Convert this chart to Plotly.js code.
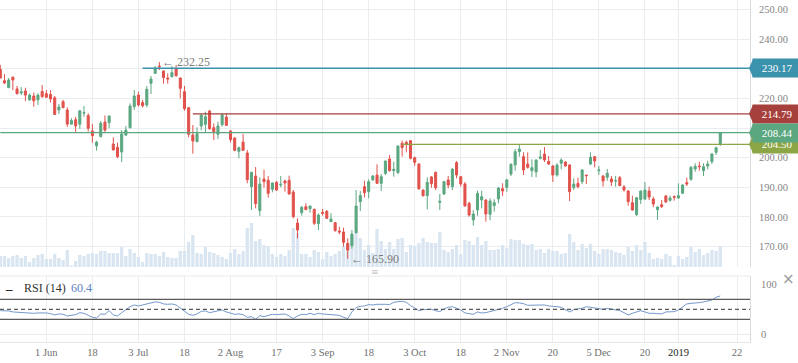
<!DOCTYPE html>
<html><head><meta charset="utf-8">
<script src="https://cdn.plot.ly/plotly-3.0.1.min.js"></script>
<style>html,body{margin:0;padding:0;background:#fff;}#chart{width:798px;height:363px;}</style>
</head><body><div id="chart"></div>
<script>
// ---- data ----
const tickLabels = ['1 Jun','18','3 Jul','18','2 Aug','17','3 Sep','18','3 Oct','18','2 Nov','20','5 Dec','20','2019','22'];
const tickIndex  = [11,22,33,44,55,66,77,88,99,110,121,132,143,154,162,176];
const priceTicks = [170, 180, 190, 200, 220, 240, 250]; // 210 and 230 are hidden behind the level tags

const open = [
229.8,225.98,223.6,227.2,223.2,221.8,222.5,219.5,220.8,219.5,
222.3,221.6,221.3,220.2,216.1,218.9,216.1,211.3,212.8,211.3,
215.0,214.2,209.0,204.0,207.1,212.0,211.8,204.6,203.5,201.9,
207.6,210.1,217.2,221.1,218.6,217.77,225.08,228.45,230.93,229.24,
226.88,227.33,229.92,226.88,222.27,216.86,207.64,205.39,210.68,211.24,
215.74,210.11,207.86,211.13,213.71,209.0,206.63,202.13,205.28,201.56,
190.2,193.8,182.1,192.79,192.34,189.3,191.66,190.76,192.11,192.34,
188.4,177.93,181.42,183.45,182.77,182.55,177.71,181.53,181.87,178.38,
178.05,175.23,174.9,171.07,170.28,174.67,185.13,190.2,188.51,192.45,
194.14,191.32,194.7,199.54,195.6,194.92,204.83,205.16,205.73,199.99,
197.85,189.07,187.16,193.46,195.04,184.91,187.72,192.45,190.2,198.3,
193.57,191.1,184.57,178.95,182.32,185.7,185.7,180.86,183.78,186.04,
189.52,189.97,194.47,197.51,202.01,200.33,197.85,195.6,195.15,199.76,
201.23,198.75,197.17,194.14,198.08,198.52,197.51,189.86,191.32,191.89,
194.14,197.85,200.33,195.6,193.8,193.35,192.79,192.11,193.24,190.09,
188.74,184.8,180.75,185.81,186.04,188.74,186.04,182.44,184.12,187.05,
185.59,186.82,186.37,187.95,191.55,192.67,196.16,197.17,195.6,197.17,
198.64,201.79,204.49];
const high = [
231.3,228.2,226.9,227.2,224.2,223.8,223.6,221.7,222.0,221.7,
224.5,222.8,222.8,220.8,218.1,219.5,217.0,213.3,213.8,216.1,
217.4,215.0,211.4,205.7,212.4,214.2,214.2,206.85,205.05,209.3,
210.7,218.3,222.8,222.3,219.5,224.18,227.55,230.93,232.25,229.4,
228.45,230.93,231.27,227.0,224.18,217.0,211.0,210.23,214.5,215.51,
216.08,211.58,212.14,214.95,214.95,209.33,206.85,203.7,207.97,202.57,
195.2,196.84,193.35,195.94,193.8,191.6,192.11,193.8,192.56,193.9,
189.07,179.5,183.67,184.57,183.8,182.77,181.2,182.66,182.32,181.2,
178.27,176.7,176.36,172.76,175.57,189.07,188.74,192.22,192.67,194.14,
197.74,194.47,199.0,200.89,198.64,204.1,205.73,205.73,205.95,200.33,
198.08,189.3,193.35,193.8,195.26,187.72,192.11,193.8,196.39,198.86,
193.8,191.77,185.13,182.32,188.85,188.85,185.92,186.26,185.92,189.97,
191.32,192.9,198.08,202.91,204.5,201.79,201.79,199.42,199.42,202.57,
203.59,200.55,197.51,198.08,199.76,198.86,197.74,193.01,193.24,196.16,
194.14,201.79,200.55,197.17,194.14,196.16,193.8,193.8,193.8,190.76,
189.07,187.16,186.49,188.85,191.77,190.2,186.82,183.45,185.7,187.39,
187.16,187.27,191.32,190.99,193.24,197.17,198.08,198.64,198.08,198.97,
201.45,203.7,208.54];
const low = [
226.7,224.85,223.6,222.8,221.3,221.1,219.1,219.2,217.2,217.8,
220.2,220.1,218.6,214.4,214.7,216.6,210.4,211.3,208.65,209.7,
213.8,208.8,205.0,202.35,206.85,208.65,209.9,202.4,199.8,198.5,
207.3,209.9,216.1,217.2,216.9,216.98,221.48,228.23,229.58,224.97,
224.97,227.1,227.33,220.0,215.85,206.85,201.34,205.2,209.21,208.31,
209.33,205.95,206.29,210.45,210.68,205.16,202.13,199.76,202.24,191.32,
182.32,182.89,180.3,189.86,186.48,188.29,188.74,189.97,188.51,187.5,
179.5,172.76,180.41,182.32,181.42,177.26,175.57,180.41,179.29,178.27,
175.01,174.1,169.95,165.9,169.27,174.45,181.98,186.6,186.26,192.22,
191.1,188.74,194.14,195.26,193.57,194.47,200.33,201.79,199.42,197.17,
189.07,186.82,182.55,189.86,189.07,182.32,187.39,189.64,189.07,193.01,
190.2,183.5,180.07,177.03,180.41,182.89,178.38,178.83,181.76,184.57,
187.05,188.51,193.8,195.6,200.33,194.14,196.27,193.46,193.35,199.42,
198.52,197.51,191.77,193.57,196.05,196.95,185.36,189.07,189.64,191.1,
191.1,197.51,196.72,194.14,190.2,192.22,190.42,190.2,190.42,188.51,
183.78,182.1,180.3,184.35,185.7,185.7,183.33,178.95,183.0,184.8,
185.13,185.47,186.04,187.72,190.42,192.22,195.26,195.6,193.8,196.05,
197.85,200.89,203.92];
const close = [
226.9,225.2,226.2,226.2,221.6,222.2,221.1,221.1,219.2,221.1,
220.6,220.4,219.8,214.6,217.1,216.9,211.3,212.5,210.7,215.8,
215.2,209.9,207.4,205.2,211.6,209.3,214.05,202.6,200.3,208.0,
209.3,217.4,220.8,217.8,217.5,223.05,226.54,230.14,230.7,227.0,
226.54,228.68,227.67,223.39,216.53,207.86,205.61,208.09,214.39,213.83,
209.78,208.76,210.68,214.39,210.9,206.06,202.46,203.36,202.46,192.56,
195.04,184.46,191.1,191.89,187.95,191.44,189.07,190.99,191.44,187.72,
180.07,175.57,183.22,182.44,183.67,177.82,180.63,181.2,179.51,179.29,
175.35,174.9,171.41,168.82,174.22,183.67,187.16,188.17,191.89,193.8,
191.32,193.57,198.86,195.6,196.05,203.92,203.36,204.49,199.76,198.41,
189.52,187.16,191.66,191.21,189.86,185.25,191.89,190.76,196.16,194.14,
191.1,183.67,180.63,180.97,187.95,186.82,180.97,185.36,184.8,189.75,
188.74,192.45,197.74,202.01,202.91,195.82,196.72,196.61,199.2,200.21,
199.2,197.85,194.14,197.51,199.2,197.17,188.51,191.1,190.2,195.82,
193.91,200.1,198.86,195.82,192.11,194.7,191.77,192.22,190.54,189.07,
185.13,182.32,186.49,188.74,189.07,186.71,184.35,183.33,183.45,185.02,
186.37,186.6,187.16,190.76,191.1,196.72,197.06,196.95,196.95,197.85,
201.23,203.36,208.44];
const volume = [
11,11,9,11,12,9,11,5,9,12,
13,8,8,13,9,7,17,1.5,6,12,
11,13,14,13,16,16,14,14,14,20,
11,18,14,10,5,14,13,13,11,15,
10,9,9,16,16,25,32,14,13,20,
15,14,12,10,8,14,18,13,16,39,
44,26,28,22,21,13,10,13,11,17,
39,34,13,13,10,17,15,8,15,11,
13,16,21,24,31,35,29,17,22,14,
38,26,18,25,18,28,29,15,22,21,
24,29,25,24,24,35,17,15,18,22,
13,27,26,22,30,22,26,17,17,18,
22,19,28,27,27,23,22,23,17,18,
14,18,16,16,13,14,33,25,17,23,
19,23,16,13,18,18,17,15,14,12,
20,16,22,17,25,14,8,9,8,13,
11,2,11,8,10,20,15,18,12,14,
17,16,21];
const rsi = [
47.3,47.3,46.7,44.7,44.0,43.3,42.7,42.0,42.0,42.7,
43.3,42.7,41.3,38.7,40.7,40.0,36.7,38.7,39.3,43.3,
42.0,38.0,34.0,32.7,40.7,40.0,47.3,38.7,36.7,43.3,
50.0,55.3,58.7,56.7,58.7,60.7,62.0,64.7,64.0,60.7,
60.0,60.7,58.7,52.0,45.3,40.0,38.0,40.7,46.0,46.7,
43.3,44.7,47.3,48.7,44.7,42.0,40.0,40.7,39.3,34.0,
35.3,30.0,37.3,35.3,38.0,40.0,39.3,40.7,40.7,36.7,
31.3,36.7,40.0,39.3,42.0,39.3,42.0,40.7,40.7,39.3,
38.7,38.0,34.0,31.3,44.7,53.3,56.0,56.7,59.3,58.7,
60.0,60.7,60.0,59.3,64.0,65.3,66.0,64.0,57.3,52.7,
47.3,49.3,50.0,50.0,47.3,45.3,50.7,54.0,55.3,52.7,
48.7,42.7,40.7,40.0,44.7,42.7,43.3,45.3,47.3,49.3,
52.0,55.3,58.7,63.3,62.7,61.3,58.0,58.0,58.0,59.3,
58.7,56.7,56.7,55.3,54.0,48.7,44.7,49.3,50.0,52.0,
55.3,54.0,52.0,50.7,50.0,52.0,50.0,48.7,47.3,43.3,
38.7,42.0,45.3,47.3,44.7,42.0,42.0,41.3,40.7,44.7,
45.3,45.3,48.7,54.0,60.7,62.0,62.0,63.3,64.7,66.7,
68.7,74.0,76.7];
const levels = [230.17, 214.79, 208.44, 204.50];
const levelStart = [34, 46, 0, 96];
const extremeIndex = [38, 83];
const extremeValue = [232.25, 165.90];
const rsiLabel = 'RSI (14)';
const rsiValueText = '60.4';
const rsiBands = [70, 50, 30];

// ---- styles / layout ----
const levelColors = ['#3a92ad', '#a6403d', '#5ba780', '#8ca545'];
const idx = open.map((_, i) => i);
const W = 798, H = 363, mL = 0, mR = 48, mT = 0, mB = 21;
const plotH = H - mT - mB, plotW = W - mL - mR;
const mainDom = [(plotH - 267) / plotH, 1];
const rsiDom = [0, (plotH - 276) / plotH];
const pr = [163.08, 253.21];
const xr = [-0.07, 179.1];
const rr = [-15.4, 116.6];
const serif = 'Liberation Serif, Times New Roman, serif';
const yPaper = v => mainDom[0] + (v - pr[0]) / (pr[1] - pr[0]) * (mainDom[1] - mainDom[0]);

const traces = [
  {type:'bar', x: idx, y: volume, xaxis:'x', yaxis:'y', width:0.78,
   marker:{color:'#d9e5f0', line:{width:0}}, hoverinfo:'skip'},
  {type:'candlestick', x: idx, open, high, low, close, xaxis:'x', yaxis:'y3',
   increasing:{line:{color:'#5ba780', width:1}, fillcolor:'#5ba780'},
   decreasing:{line:{color:'#e1524c', width:1}, fillcolor:'#e1524c'},
   whiskerwidth:0, hoverinfo:'skip'},
  {type:'scatter', mode:'lines', x: idx, y: rsi, xaxis:'x', yaxis:'y2',
   line:{color:'#7498cd', width:1}, hoverinfo:'skip'}
];

const shapes = [];
const yearIdx = tickIndex[tickLabels.indexOf('2019')];
shapes.push({type:'line', layer:'below', xref:'x', yref:'y3', x0:yearIdx, x1:yearIdx, y0:pr[0], y1:pr[1], line:{color:'#d4d8dc', width:1}});
shapes.push({type:'line', layer:'below', xref:'x', yref:'y2', x0:yearIdx, x1:yearIdx, y0:rr[0], y1:rr[1], line:{color:'#d4d8dc', width:1}});
shapes.push({type:'line', layer:'below', xref:'paper', yref:'paper', x0:0, x1:1, y0:rsiDom[1], y1:rsiDom[1], line:{color:'#e6e9ec', width:1}});
shapes.push({type:'line', layer:'below', xref:'paper', yref:'y2', x0:0, x1:1, y0:0, y1:0, line:{color:'#e6e9ec', width:1}});
rsiBands.forEach(b => shapes.push({type:'line', layer:'above', xref:'paper', yref:'y2', x0:0, x1:1, y0:b, y1:b,
  line:{color:'#5a5a5a', width:1.2, dash: b === 50 ? '4px,3px' : 'solid'}}));
levels.forEach((v, k) => {
  shapes.push({type:'line', layer:'above', xref:'x', yref:'y3', x0:levelStart[k], x1:xr[1] + 5, y0:v, y1:v,
    line:{color:levelColors[k], width:1.3}});
  shapes.push({type:'path', xref:'paper', yref:'paper', xsizemode:'pixel', ysizemode:'pixel',
    xanchor:1, yanchor:yPaper(v), path:'M -1 0 L 3 9 L 3 -9 Z', fillcolor:levelColors[k], line:{width:0}});
});

const annotations = [];
[0, 1, 3, 2].forEach(k => {
  annotations.push({xref:'paper', yref:'paper', x:1 + 2 / plotW, y:yPaper(levels[k]), xanchor:'left', yanchor:'middle',
    text:levels[k].toFixed(2), showarrow:false, bgcolor:levelColors[k], width:46, height:16, borderpad:1,
    font:{family:serif, size:11, color:'#ffffff'}, align:'center'});
});
extremeIndex.forEach((ix, k) => {
  annotations.push({xref:'x', yref:'y3', x:ix, y:extremeValue[k], xanchor:'left', yanchor:'middle', xshift:1,
    text:'\u2190 ' + extremeValue[k].toFixed(2), showarrow:false, font:{family:serif, size:12, color:'#7c7c7c'}});
});
const legY = rsiDom[1];
annotations.push({xref:'paper', yref:'paper', x:0, y:legY, xanchor:'left', yanchor:'top', xshift:3, yshift:-3,
  text:'<b>\u2013</b>', showarrow:false, font:{family:serif, size:13, color:'#111'}});
annotations.push({xref:'paper', yref:'paper', x:0, y:legY, xanchor:'left', yanchor:'top', xshift:22, yshift:-3,
  text:rsiLabel, showarrow:false, font:{family:serif, size:12, color:'#333'}});
annotations.push({xref:'paper', yref:'paper', x:0, y:legY, xanchor:'left', yanchor:'top', xshift:69, yshift:-3,
  text:rsiValueText, showarrow:false, font:{family:serif, size:12, color:'#5b82c0'}});
annotations.push({xref:'paper', yref:'paper', x:1 + 38 / plotW, y:legY, xanchor:'center', yanchor:'middle', yshift:-3,
  text:'\u00d7', showarrow:false, font:{family:'DejaVu Sans', size:15, color:'#9a9a9a'}});
annotations.push({xref:'paper', yref:'paper', x:375 / plotW, y:legY, xanchor:'center', yanchor:'middle', yshift:4,
  text:'\u2261', showarrow:false, font:{family:'DejaVu Sans', size:9, color:'#c8c8c8'}});

const ticktext = tickLabels.map(t => t === '2019' ? '<span style="color:#222">2019</span>' : t);

const layout = {
  width:W, height:H, margin:{l:mL, r:mR, t:mT, b:mB, pad:0},
  paper_bgcolor:'#ffffff', plot_bgcolor:'#ffffff', showlegend:false, hovermode:false, dragmode:false,
  xaxis:{range:xr, anchor:'y2', tickmode:'array', tickvals:tickIndex, ticktext:ticktext, ticks:'',
    showgrid:true, gridcolor:'#eaedf0', gridwidth:1, zeroline:false, showline:true, linecolor:'#e3e6ea',
    tickfont:{family:serif, size:10.5, color:'#6f6f6f'}, rangeslider:{visible:false}, fixedrange:true},
  yaxis:{domain:mainDom, range:[0, 267], visible:false, fixedrange:true},
  yaxis3:{overlaying:'y', side:'right', anchor:'x', range:pr, tickmode:'array', tickvals:priceTicks,
    ticktext:priceTicks.map(v => v.toFixed(2)), ticks:'',
    showgrid:true, gridcolor:'#eaedf0', zeroline:false, showline:true, linecolor:'#d6dbe0',
    minor:{tick0:0, dtick:10, showgrid:true, gridcolor:'#eaedf0', ticks:''},
    ticklabelstandoff:6, tickfont:{family:serif, size:10.5, color:'#858585'}, fixedrange:true},
  yaxis2:{domain:rsiDom, range:rr, side:'right', anchor:'x', tickmode:'array', tickvals:[0, 100], ticktext:['0','100'],
    ticks:'', showgrid:false, zeroline:false, showline:true, linecolor:'#d6dbe0', ticklabelstandoff:8,
    tickfont:{family:serif, size:10.5, color:'#858585'}, fixedrange:true},
  shapes, annotations
};

Plotly.newPlot('chart', traces, layout, {displayModeBar:false, staticPlot:true});
</script>
</body></html>
